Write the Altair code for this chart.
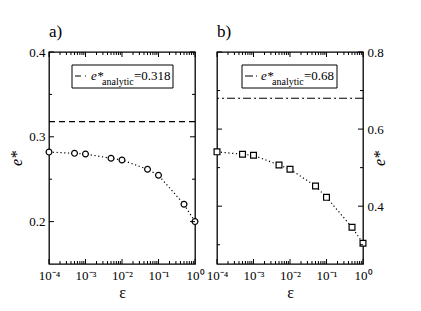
import altair as alt
import pandas as pd

# ---- data ----
eps = [1e-4, 5e-4, 1e-3, 5e-3, 1e-2, 5e-2, 1e-1, 5e-1, 1.0]
e_a = [0.282, 0.2805, 0.2797, 0.2747, 0.2726, 0.2617, 0.2546, 0.2204, 0.200]
e_b = [0.541, 0.5346, 0.532, 0.5069, 0.4957, 0.4524, 0.4229, 0.3452, 0.3037]
analytic_a = 0.318
analytic_b = 0.68
x_major = [1e-4, 1e-3, 1e-2, 1e-1, 1.0]
x_minor_mult = [2, 3, 4, 5, 6, 7, 8, 9]
x_labels = ["10⁻⁴", "10⁻³", "10⁻²", "10⁻¹", "10⁰"]
ya_major = [0.2, 0.3, 0.4]
ya_minor = [0.25, 0.35]
yb_major = [0.4, 0.6, 0.8]
yb_minor = [0.3, 0.5, 0.7]

FONT = "Liberation Serif"
W, H = 146, 212
MAJ, MIN = 5, 3

x_minor = [m * d for d in x_major[:-1] for m in x_minor_mult]

label_expr = ""
for v, lab in zip(x_major, x_labels):
    label_expr += f"datum.value < {v * 3} ? '{lab}' : "
label_expr += "''"


def one():
    return pd.DataFrame({"k": [0]})


def panel(yvals, ydom, ymaj, ymin, shape, analytic, dash, title, orient, box):
    xs = alt.Scale(type="log", domain=[1e-4, 1])
    ys = alt.Scale(domain=ydom)
    df = pd.DataFrame({"eps": eps, "e": yvals})
    xaxis = alt.Axis(values=x_major, labelExpr=label_expr, ticks=False, domain=False,
                     grid=False, title="ε", labelFont=FONT, labelFontSize=13,
                     labelColor="black", titleFont=FONT, titleFontSize=16,
                     titleFontWeight="normal", titleColor="black",
                     labelPadding=5, titlePadding=2, labelFlush=False)
    yaxis = alt.Axis(values=ymaj, orient=orient, ticks=False, domain=False, grid=False,
                     format=".1f", title="e*", titleFontStyle="italic", titleAngle=270,
                     titleFont=FONT, titleFontSize=16, titleFontWeight="normal",
                     titleColor="black", labelFont=FONT, labelFontSize=13,
                     labelColor="black", labelPadding=4, titlePadding=4)
    X = alt.X("eps:Q", scale=xs, axis=xaxis)
    Y = alt.Y("e:Q", scale=ys, axis=yaxis)

    line = alt.Chart(df).mark_line(color="black", strokeDash=[1.2, 2.6],
                                   strokeWidth=1.2).encode(x=X, y=Y)
    pts = alt.Chart(df).mark_point(shape=shape, filled=True, fill="white",
                                   stroke="black", strokeWidth=1.2, size=34,
                                   opacity=1).encode(x=X, y=Y)
    ana = alt.Chart(pd.DataFrame({"e": [analytic]})).mark_rule(
        color="black", strokeDash=dash, strokeWidth=1.2).encode(y=Y)

    layers = [line, ana, pts]
    ymaj_df = pd.DataFrame({"e": ymaj})
    ymin_df = pd.DataFrame({"e": ymin})
    xmaj_df = pd.DataFrame({"eps": x_major})
    xmin_df = pd.DataFrame({"eps": x_minor})
    for d, L in [(ymaj_df, MAJ), (ymin_df, MIN)]:
        layers.append(alt.Chart(d).mark_rule(color="black", strokeWidth=1).encode(
            y=Y, x=alt.value(0), x2=alt.value(L)))
        layers.append(alt.Chart(d).mark_rule(color="black", strokeWidth=1).encode(
            y=Y, x=alt.value(W), x2=alt.value(W - L)))
    for d, L in [(xmaj_df, MAJ), (xmin_df, MIN)]:
        layers.append(alt.Chart(d).mark_rule(color="black", strokeWidth=1).encode(
            x=X, y=alt.value(H), y2=alt.value(H - L)))
        layers.append(alt.Chart(d).mark_rule(color="black", strokeWidth=1).encode(
            x=X, y=alt.value(0), y2=alt.value(L)))

    # legend box
    bx0, bx1, by0, by1, lx0, lx1, tx_e, tx_sub, tx_val = box
    layers.append(alt.Chart(one()).mark_rect(fill="white", stroke="black", strokeWidth=1).encode(
        x=alt.value(bx0), x2=alt.value(bx1), y=alt.value(by0), y2=alt.value(by1)))
    layers.append(alt.Chart(one()).mark_rule(color="black", strokeDash=dash, strokeWidth=1.2).encode(
        x=alt.value(lx0), x2=alt.value(lx1), y=alt.value(24)))
    layers.append(alt.Chart(one()).mark_text(text="e*", font=FONT, fontSize=13, fontStyle="italic",
                                             align="left", baseline="alphabetic", color="black").encode(
        x=alt.value(tx_e), y=alt.value(28)))
    layers.append(alt.Chart(one()).mark_text(text="analytic", font=FONT, fontSize=10,
                                             align="left", baseline="alphabetic", color="black").encode(
        x=alt.value(tx_sub), y=alt.value(33)))
    layers.append(alt.Chart(one()).mark_text(text=f"={analytic}", font=FONT, fontSize=13,
                                             align="left", baseline="alphabetic", color="black").encode(
        x=alt.value(tx_val), y=alt.value(28)))

    return alt.layer(*layers).properties(
        width=W, height=H,
        title=alt.TitleParams(title, anchor="start", frame="group", font=FONT, fontSize=17,
                              fontWeight="normal", color="black", offset=5))


pa = panel(e_a, [0.15, 0.4], ya_major, ya_minor, "circle", analytic_a, [6, 4], "a)", "left",
           (23, 124, 13, 36, 26, 37, 42, 53, 85))
pb = panel(e_b, [0.25, 0.8], yb_major, yb_minor, "square", analytic_b, [8, 3, 2, 3], "b)", "right",
           (25, 120, 13, 36, 28, 40, 44, 55, 87))

chart = alt.hconcat(pa, pb, spacing=22, bounds="flush").configure(
    font=FONT).configure_view(
    stroke="black", strokeWidth=1.3).properties(
    padding={"left": 0, "top": 14, "right": 5, "bottom": 5}, background="white")

chart.save("out.html", embed_options={"renderer": "svg", "actions": False})
